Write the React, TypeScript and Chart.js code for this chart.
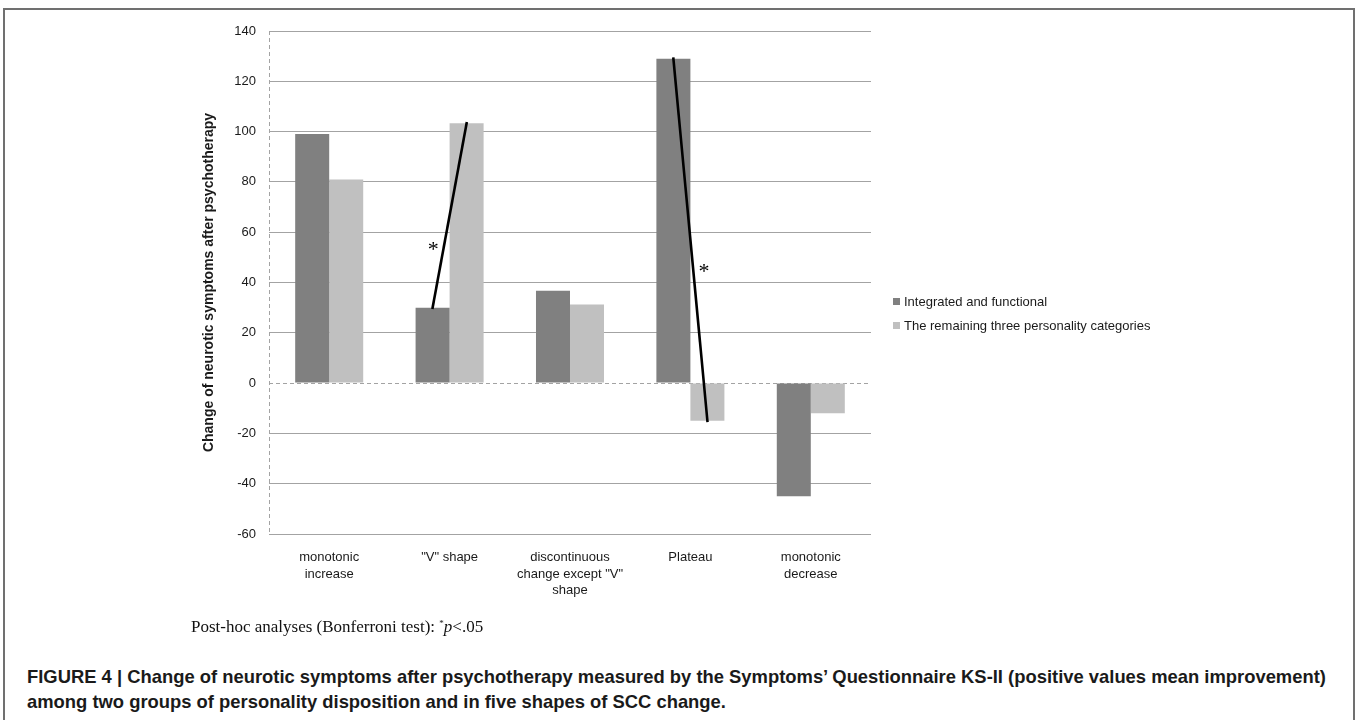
import React, { useEffect, useRef } from "react";
import { Chart, registerables } from "chart.js";

Chart.register(...registerables);

// ---------- data ----------
const categories: string[][] = [
  ["monotonic", "increase"],
  ['"V" shape'],
  ["discontinuous", 'change except "V"', "shape"],
  ["Plateau"],
  ["monotonic", "decrease"],
];
const seriesLabels = [
  "Integrated and functional",
  "The remaining three personality categories",
];
const integratedValues = [99, 30, 36.7, 129, -45];
const remainingValues = [81, 103.3, 31.3, -15, -12];
const yMin = -60;
const yMax = 140;
const yStep = 20;
const yTitle = "Change of neurotic symptoms after psychotherapy";
// significant differences (category index) and the value level of the "*"
const significantCategories = [1, 3];
const starLevels = [55, 46];
const starSides = [-1, 1];

const footnoteText = "Post-hoc analyses (Bonferroni test): ";
const captionLines = [
  "FIGURE 4 | Change of neurotic symptoms after psychotherapy measured by the Symptoms\u2019 Questionnaire KS-II (positive values mean improvement)",
  "among two groups of personality disposition and in five shapes of SCC change.",
];

// ---------- styles ----------
const darkColor = "#808080";
const lightColor = "#c0c0c0";
const gridColor = "#a3a3a3";
const textColor = "#1a1a1a";
const sans = '"Liberation Sans", Arial, sans-serif';

const sigPlugin = {
  id: "sigLines",
  beforeDatasetsDraw(chart: any) {
    const { ctx, chartArea } = chart;
    const y0 = chart.scales.y.getPixelForValue(0);
    ctx.save();
    ctx.strokeStyle = gridColor;
    ctx.lineWidth = 1;
    ctx.setLineDash([4, 3]);
    // zero line
    ctx.beginPath();
    ctx.moveTo(chartArea.left, Math.round(y0) + 0.5);
    ctx.lineTo(chartArea.right, Math.round(y0) + 0.5);
    ctx.stroke();
    // vertical axis line
    ctx.beginPath();
    ctx.moveTo(Math.round(chartArea.left) + 0.5, chartArea.top);
    ctx.lineTo(Math.round(chartArea.left) + 0.5, chartArea.bottom);
    ctx.stroke();
    ctx.restore();
  },
  afterDatasetsDraw(chart: any) {
    const { ctx } = chart;
    const m0 = chart.getDatasetMeta(0);
    const m1 = chart.getDatasetMeta(1);
    const yScale = chart.scales.y;
    significantCategories.forEach((ci, k) => {
      const a = m0.data[ci];
      const b = m1.data[ci];
      ctx.save();
      ctx.strokeStyle = "#000";
      ctx.lineWidth = 2.6;
      ctx.lineCap = "square";
      ctx.beginPath();
      ctx.moveTo(a.x, a.y);
      ctx.lineTo(b.x, b.y);
      ctx.stroke();
      const sy = yScale.getPixelForValue(starLevels[k]);
      const t = (sy - a.y) / (b.y - a.y);
      const lx = a.x + t * (b.x - a.x);
      const sx = lx + starSides[k] * 11;
      ctx.fillStyle = "#000";
      ctx.font = '22px "Liberation Serif", "Times New Roman", serif';
      ctx.textAlign = "center";
      ctx.textBaseline = "middle";
      ctx.fillText("*", sx, sy + 5);
      ctx.restore();
    });
  },
};

function ChartCanvas() {
  const ref = useRef<HTMLCanvasElement | null>(null);
  useEffect(() => {
    if (!ref.current) return;
    const padLeft = 197;
    const chart = new Chart(ref.current, {
      type: "bar",
      data: {
        labels: categories as any,
        datasets: [
          {
            label: seriesLabels[0],
            data: integratedValues,
            backgroundColor: darkColor,
            borderWidth: 0,
            categoryPercentage: 0.565,
            barPercentage: 1,
          },
          {
            label: seriesLabels[1],
            data: remainingValues,
            backgroundColor: lightColor,
            borderWidth: 0,
            categoryPercentage: 0.565,
            barPercentage: 1,
          },
        ],
      },
      options: {
        responsive: false,
        animation: false,
        devicePixelRatio: 1,
        layout: { padding: { left: padLeft, top: 31, right: 1358 - 871, bottom: 16 } },
        plugins: {
          legend: { display: false },
          tooltip: { enabled: false },
        },
        scales: {
          x: {
            grid: { display: false },
            border: { display: false },
            ticks: {
              color: textColor,
              font: { family: sans, size: 13, lineHeight: 1.28 },
              padding: 7,
              maxRotation: 0,
              autoSkip: false,
            },
            afterFit: (s: any) => {
              s.height = 620 - 534 - 16;
            },
          },
          y: {
            min: yMin,
            max: yMax,
            ticks: {
              stepSize: yStep,
              color: textColor,
              font: { family: sans, size: 13 },
              padding: 13,
            },
            grid: {
              drawTicks: false,
              color: (c: any) => (c.tick && c.tick.value === 0 ? "rgba(0,0,0,0)" : gridColor),
              lineWidth: 1,
            },
            border: { display: false },
            title: {
              display: true,
              text: yTitle,
              color: textColor,
              font: { family: sans, size: 14, weight: "bold" },
              padding: { top: 4, bottom: 4 },
            },
            afterFit: (s: any) => {
              s.width = 269 - padLeft;
            },
          },
        },
      },
      plugins: [sigPlugin],
    });
    return () => chart.destroy();
  }, []);
  return (
    <canvas
      ref={ref}
      width={1358}
      height={620}
      style={{ position: "absolute", left: 0, top: 0, width: 1358, height: 620 }}
    />
  );
}

export default function App() {
  const legendColors = [darkColor, lightColor];
  return (
    <div
      style={{
        position: "absolute",
        left: 0,
        top: 0,
        width: 1358,
        height: 720,
        overflow: "hidden",
        background: "#fff",
      }}
    >
      <div
        style={{
          position: "absolute",
          left: 3,
          top: 8,
          width: 1348,
          height: 800,
          border: "2px solid #707070",
        }}
      />
      <ChartCanvas />
      {seriesLabels.map((lab, i) => (
        <div
          key={lab}
          style={{
            position: "absolute",
            left: 893,
            top: 292 + i * 24,
            height: 18,
            display: "flex",
            alignItems: "center",
            fontFamily: sans,
            fontSize: 13,
            color: textColor,
            whiteSpace: "nowrap",
          }}
        >
          <span
            style={{
              display: "inline-block",
              width: 7,
              height: 7,
              background: legendColors[i],
              marginRight: 4,
            }}
          />
          {lab}
        </div>
      ))}
      <div
        style={{
          position: "absolute",
          left: 191,
          top: 612,
          fontFamily: '"Liberation Serif", "Times New Roman", serif',
          fontSize: 17,
          lineHeight: "22px",
          color: "#111",
          whiteSpace: "nowrap",
        }}
      >
        {footnoteText}
        <sup style={{ fontSize: 9, verticalAlign: "6px" }}>*</sup>
        <i>p</i>
        {"<.05"}
      </div>
      {captionLines.map((line, i) => (
        <div
          key={i}
          style={{
            position: "absolute",
            left: 27,
            top: 664 + i * 25,
            fontFamily: sans,
            fontWeight: "bold",
            fontSize: 18.4,
            lineHeight: "25px",
            color: "#1a1a1a",
            whiteSpace: "nowrap",
          }}
        >
          {line}
        </div>
      ))}
    </div>
  );
}
